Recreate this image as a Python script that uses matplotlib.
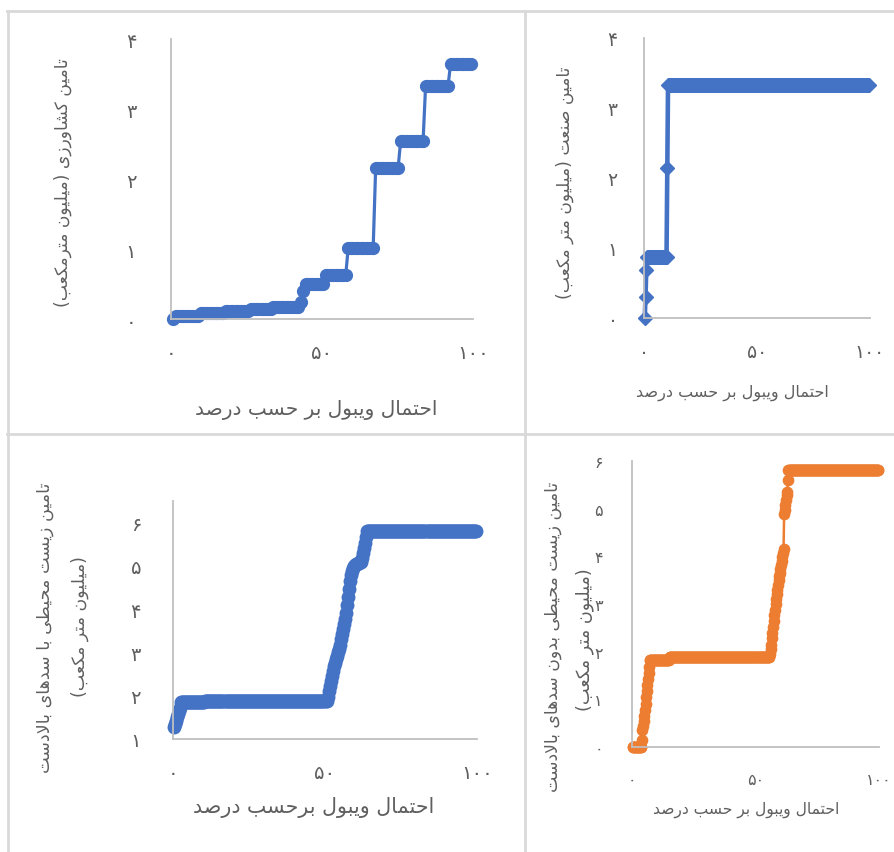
import numpy as np
import matplotlib
matplotlib.use("Agg")
import matplotlib.pyplot as plt
from matplotlib.lines import Line2D

# ---------------- data: sorted supply values and their repeat counts ----------------
# agriculture supply (million m3)
agri_levels = [0.0, 0.05, 0.09, 0.12, 0.14, 0.17, 0.24, 0.40, 0.50, 0.63,
               1.01, 2.16, 2.54, 3.33, 3.64]
agri_counts = [1, 10, 10, 10, 9, 11, 1, 1, 8, 9, 11, 10, 10, 10, 9]

# industry supply
ind_levels = [0.0, 0.30, 0.68, 0.87, 2.14, 3.33]
ind_counts = [1, 1, 1, 27, 1, 269]

# environmental supply with upstream dams
env_dam_levels = [1.27, 1.35, 1.42, 1.50, 1.57, 1.64, 1.72, 1.85, 1.88,
                  1.98, 2.10, 2.22, 2.34, 2.46, 2.58, 2.68, 2.76, 2.84, 2.92,
                  3.00, 3.08, 3.18, 3.30, 3.42, 3.54, 3.66, 3.78, 3.92, 4.10,
                  4.28, 4.46, 4.64, 4.78, 4.88, 4.95, 5.00, 5.03, 5.04, 5.05,
                  5.06, 5.07, 5.08, 5.10, 5.18, 5.30, 5.42, 5.54, 5.66, 5.80]
env_dam_counts = [1, 1, 1, 1, 1, 1, 1, 24, 121,
                  1, 1, 1, 1, 1, 1, 1, 1, 1, 1,
                  1, 1, 1, 1, 1, 1, 1, 1, 1, 1,
                  1, 1, 1, 1, 1, 1, 1, 1, 1, 1,
                  1, 1, 1, 1, 1, 1, 1, 1, 1, 109]

# environmental supply without upstream dams
env_free_levels = [0.0, 0.15, 0.35, 0.45, 0.55, 0.65, 0.78, 0.90, 1.05, 1.18,
                   1.30, 1.42, 1.55, 1.68, 1.83, 1.88,
                   1.95, 2.05, 2.15, 2.28, 2.40, 2.52, 2.64, 2.76, 2.88, 3.00,
                   3.10, 3.20, 3.30, 3.40, 3.50, 3.58, 3.66, 3.74, 3.82, 3.90,
                   3.98, 4.06, 4.15, 4.88, 4.98, 5.08, 5.18, 5.28, 5.36, 5.60,
                   5.82]
env_free_counts = [15, 1, 1, 1, 1, 1, 1, 1, 1, 1,
                   1, 1, 1, 1, 32, 163,
                   1, 1, 1, 1, 1, 1, 1, 1, 1, 1,
                   1, 1, 1, 1, 1, 1, 1, 1, 1, 1,
                   1, 1, 1, 1, 1, 1, 1, 1, 1, 1,
                   147]

# labels
xlabel_a = "احتمال ویبول بر حسب درصد"
xlabel_b = "احتمال ویبول برحسب درصد"
ylabel_agri = "تامین کشاورزی (میلیون مترمکعب)"
ylabel_ind = "تامین صنعت (میلیون متر مکعب)"
ylabel_dam = "تامین زیست محیطی با سدهای بالادست"
ylabel_free = "تامین زیست محیطی بدون سدهای بالادست"
ylabel_unit = "(میلیون متر مکعب)"
x_ticks = [0, 50, 100]

BLUE = "#4472C4"
ORANGE = "#ED7D31"
TEXT = "#5f5f5f"
AXIS = "#BFBFBF"
GRIDLINE = "#D9D9D9"

# ---------------- persian shaping (matplotlib has no arabic shaping) ----------------
# char -> (isolated, final, initial, medial); two entries = joins on the right only
FORMS = {
    "ا": ("\uFE8D", "\uFE8E"),
    "ب": ("\uFE8F", "\uFE90", "\uFE91", "\uFE92"),
    "ت": ("\uFE95", "\uFE96", "\uFE97", "\uFE98"),
    "ح": ("\uFEA1", "\uFEA2", "\uFEA3", "\uFEA4"),
    "د": ("\uFEA9", "\uFEAA"),
    "ر": ("\uFEAD", "\uFEAE"),
    "ز": ("\uFEAF", "\uFEB0"),
    "س": ("\uFEB1", "\uFEB2", "\uFEB3", "\uFEB4"),
    "ش": ("\uFEB5", "\uFEB6", "\uFEB7", "\uFEB8"),
    "ص": ("\uFEB9", "\uFEBA", "\uFEBB", "\uFEBC"),
    "ط": ("\uFEC1", "\uFEC2", "\uFEC3", "\uFEC4"),
    "ع": ("\uFEC9", "\uFECA", "\uFECB", "\uFECC"),
    "ل": ("\uFEDD", "\uFEDE", "\uFEDF", "\uFEE0"),
    "م": ("\uFEE1", "\uFEE2", "\uFEE3", "\uFEE4"),
    "ن": ("\uFEE5", "\uFEE6", "\uFEE7", "\uFEE8"),
    "ه": ("\uFEE9", "\uFEEA", "\uFEEB", "\uFEEC"),
    "و": ("\uFEED", "\uFEEE"),
    "ک": ("\uFB8E", "\uFB8F", "\uFB90", "\uFB91"),
    "ی": ("\uFBFC", "\uFBFD", "\uFBFE", "\uFBFF"),
}
MIRROR = {"(": ")", ")": "("}


def fa(text):
    chars = list(text)
    out = []
    i = 0
    while i < len(chars):
        ch = chars[i]
        if ch not in FORMS:
            out.append(MIRROR.get(ch, ch))
            i += 1
            continue
        prev = chars[i - 1] if i > 0 else None
        nxt = chars[i + 1] if i + 1 < len(chars) else None
        join_prev = prev in FORMS and len(FORMS[prev]) == 4
        if ch == "ل" and nxt == "ا":
            out.append("\uFEFC" if join_prev else "\uFEFB")
            i += 2
            continue
        join_next = len(FORMS[ch]) == 4 and nxt in FORMS
        f = FORMS[ch]
        if join_prev and join_next:
            out.append(f[3])
        elif join_next:
            out.append(f[2])
        elif join_prev:
            out.append(f[1])
        else:
            out.append(f[0])
        i += 1
    return "".join(reversed(out))


def fa_digits(num):
    return "".join(chr(0x06F0 + int(d)) for d in str(num))


def weibull_points(levels, counts):
    y = np.repeat(levels, counts)
    n = len(y)
    x = 100.0 * np.arange(1, n + 1) / (n + 1)
    return x, y


plt.rcParams["font.family"] = ["DejaVu Sans"]

W, H = 894, 853
fig = plt.figure(figsize=(W / 100, H / 100), dpi=100)


def px_axes(x0, y0, x1, y1):
    return fig.add_axes([x0 / W, 1 - y1 / H, (x1 - x0) / W, (y1 - y0) / H])


def style(ax, xlim, ylim, yticks, xpad, ypad, fs):
    ax.set_xlim(*xlim)
    ax.set_ylim(*ylim)
    ax.set_xticks(x_ticks)
    ax.set_xticklabels([fa_digits(t) for t in x_ticks])
    ax.set_yticks(yticks)
    ax.set_yticklabels([fa_digits(t) for t in yticks])
    for s in ("top", "right"):
        ax.spines[s].set_visible(False)
    for s in ("left", "bottom"):
        ax.spines[s].set_color(AXIS)
        ax.spines[s].set_linewidth(1.3)
    ax.tick_params(axis="x", length=0, pad=xpad, labelsize=fs, labelcolor=TEXT)
    ax.tick_params(axis="y", length=0, pad=ypad, labelsize=fs, labelcolor=TEXT)
    ax.patch.set_alpha(0)


def ftext(x, y, s, fs, rot=0):
    fig.text(x / W, 1 - y / H, s, fontsize=fs, color=TEXT, rotation=rot,
             ha="center", va="center")


# ---- (top left) agriculture ----
ax1 = px_axes(171, 40, 473, 320)
x, y = weibull_points(agri_levels, agri_counts)
ax1.plot(x, y, color=BLUE, lw=2.3, marker="o", ms=8.5, clip_on=False)
style(ax1, (0, 100), (0, 4), [0, 1, 2, 3, 4], 17, 25, 14)
ftext(63, 183, fa(ylabel_agri), 12.3, 90)
ftext(316, 410, fa(xlabel_a), 14.5)

# ---- (top right) industry ----
ax2 = px_axes(644, 39, 870, 319)
x, y = weibull_points(ind_levels, ind_counts)
ax2.plot(x, y, color=BLUE, lw=3.3, marker="D", ms=7.5, clip_on=False)
style(ax2, (0, 100), (0, 4), [0, 1, 2, 3, 4], 17, 19, 13.5)
ftext(565, 183, fa(ylabel_ind), 12.3, 90)
ftext(732, 393, fa(xlabel_a), 11.5)

# ---- (bottom left) environment with upstream dams ----
ax3 = px_axes(173, 502, 477, 740)
x, y = weibull_points(env_dam_levels, env_dam_counts)
ax3.plot(x, y, color=BLUE, lw=2, marker="o", ms=9, clip_on=False)
style(ax3, (0, 100), (1, 6.5), [1, 2, 3, 4, 5, 6], 17, 23, 14)
ftext(45, 628, fa(ylabel_dam), 12.6, 90)
ftext(80, 627, fa(ylabel_unit), 12.5, 90)
ftext(314, 808, fa(xlabel_b), 14.8)

# ---- (bottom right) environment without upstream dams ----
ax4 = px_axes(632, 462, 879, 748)
x, y = weibull_points(env_free_levels, env_free_counts)
ax4.plot(x, y, color=ORANGE, lw=1.8, marker="o", ms=7.4, clip_on=False)
style(ax4, (0, 100), (0, 6), [0, 1, 2, 3, 4, 5, 6], 18, 21, 11.5)
ftext(553, 637, fa(ylabel_free), 12.4, 90)
ftext(585, 640, fa(ylabel_unit), 12.7, 90)
ftext(746, 810, fa(xlabel_a), 11.2)

# cell borders
for xs, ys in [((7, W), (12, 12)), ((7, W), (435, 435)),
               ((8, 8), (12, H)), ((524.5, 524.5), (12, H))]:
    fig.add_artist(Line2D([v / W for v in xs], [1 - v / H for v in ys],
                          color=GRIDLINE, lw=2, transform=fig.transFigure))

fig.savefig("out.png", dpi=100, facecolor="white")
